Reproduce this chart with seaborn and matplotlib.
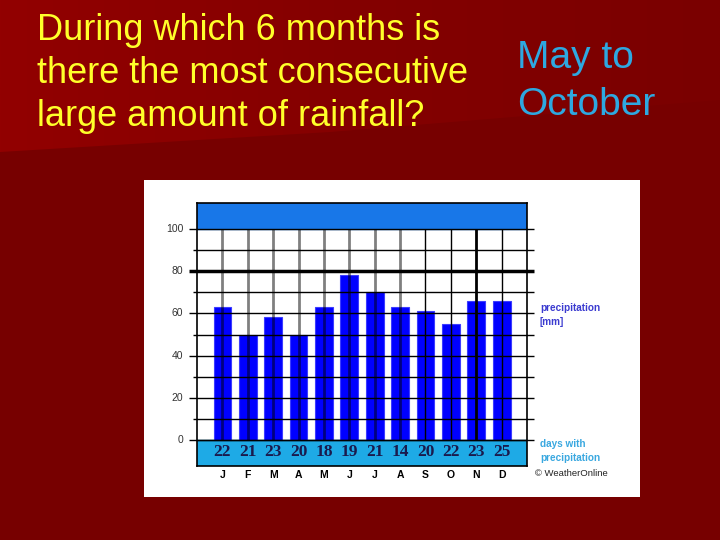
import matplotlib
matplotlib.use("Agg")
import numpy as np
import matplotlib.pyplot as plt
import seaborn as sns
from matplotlib.patches import Rectangle, Polygon
from matplotlib.colors import LinearSegmentedColormap

# -----------------------------
# DATA
# -----------------------------
months = ["Jan", "Feb", "Mar", "Apr", "May", "Jun",
          "Jul", "Aug", "Sep", "Oct", "Nov", "Dec"]
month_letters = ["J", "F", "M", "A", "M", "J", "J", "A", "S", "O", "N", "D"]
precip_mm = [63, 50, 58.5, 50, 63, 78, 70, 63, 61, 55, 66, 66]
rain_days = [22, 21, 23, 20, 18, 19, 21, 14, 20, 22, 23, 25]
y_ticks = [0, 20, 40, 60, 80, 100]

question = ["During which 6 months is",
            "there the most consecutive",
            "large amount of rainfall?"]
answer = ["May to", "October"]

W, H = 720, 540


def px(x, y):
    # pixel position (top-left origin) -> figure fraction
    return x / W, 1 - y / H


sns.set_style("white")
plt.rcParams['font.family'] = ['Liberation Sans', 'DejaVu Sans']

fig = plt.figure(figsize=(7.2, 5.4), dpi=100, facecolor="#770000")

# slide background: lighter wedge at the top, fading to the right
bg = fig.add_axes([0, 0, 1, 1], zorder=0)
bg.set_xlim(0, W)
bg.set_ylim(H, 0)
bg.axis("off")
cmap = LinearSegmentedColormap.from_list("wedge", ["#920000", "#840000", "#7a0000"])
grad = np.linspace(0, 1, 256).reshape(1, -1)
img = bg.imshow(grad, cmap=cmap, extent=[0, W, 155, 0], aspect="auto")
wedge = Polygon([(0, 0), (W, 0), (W, 100), (330, 132), (0, 152)], closed=True,
                transform=bg.transData, facecolor="none", edgecolor="none")
bg.add_patch(wedge)
img.set_clip_path(wedge)

# white picture panel
bg.add_patch(Rectangle((144, 180), 640 - 144, 497 - 180, facecolor="white",
                       edgecolor="none"))

# slide text
for i, line in enumerate(question):
    bg.text(37, 40 + i * 43, line, color="#ffff2a", fontsize=26, va="baseline", ha="left")
for i, line in enumerate(answer):
    bg.text(517, 68 + i * 47, line, color="#2ea8e0", fontsize=28, va="baseline", ha="left")

# -----------------------------
# CHART
# -----------------------------
left, right, top, bottom = 197, 527, 203, 466
ax = fig.add_axes([left / W, 1 - bottom / H, (right - left) / W, (bottom - top) / H])
ax.set_facecolor("white")
ax.set_zorder(2)

unit = (440 - 229) / 100.0
ymin = -(bottom - 440) / unit
ymax = 100 + (229 - top) / unit

sns.barplot(x=months, y=precip_mm, order=months, color="#0000ff", saturation=1,
            width=0.7, edgecolor="#3c3cff", linewidth=0.8, ax=ax, zorder=2)

ax.set_xlim(-1, 12)
ax.set_ylim(ymin, ymax)

# bands above and below the plotting range
ax.axhspan(100, ymax, color="#1877e8", zorder=1)
ax.axhspan(ymin, 0, color="#1eaae6", zorder=1)
ax.axhline(0, color="black", lw=1, zorder=4)

# horizontal grid lines, extending past the frame
for v in range(0, 101, 10):
    x_start = -1.30 if v % 20 == 0 else -1.14
    lw = 2.5 if v == 80 else 1
    ax.hlines(v, x_start, 12.29, color="black", lw=lw, zorder=4, clip_on=False)

# vertical lines through the bar centres
for i in range(len(months)):
    if i < 8:
        ax.vlines(i, 0, 100, color="black", alpha=0.5, lw=2, zorder=3)
    else:
        ax.vlines(i, 0, 100, color="black", lw=2 if i == 10 else 1, zorder=3)

# y tick labels
for v in y_ticks:
    ax.text(-1.54, v, str(v), ha="right", va="center", fontsize=7.5,
            color="#333333", clip_on=False)

# rain day counts and month letters
for i, (d, m) in enumerate(zip(rain_days, month_letters)):
    ax.text(i, -5.8, str(d), ha="center", va="center", fontsize=12.5, fontweight="bold",
            color="#1a1a4d", family=["Liberation Serif", "DejaVu Serif"])
    ax.text(i, -16.8, m, ha="center", va="center", fontsize=7.5, fontweight="bold",
            color="black", clip_on=False)

ax.set_xticks([])
ax.set_yticks([])
ax.set_xlabel("")
ax.set_ylabel("")
for s in ax.spines.values():
    s.set_color("black")
    s.set_linewidth(1.2)
    s.set_visible(True)

# chart legend texts
small = dict(fontsize=7.2, fontweight="bold", ha="left", va="center", zorder=5)
fig.text(*px(540, 308), "precipitation", color="#3b3bd0", **small)
fig.text(*px(540, 322), "[mm]", color="#3b3bd0", **small)
fig.text(*px(540, 444), "days with", color="#3aa8e0", **small)
fig.text(*px(540, 458), "precipitation", color="#3aa8e0", **small)
fig.text(*px(535, 474), "\u00a9 WeatherOnline", color="#222222", fontsize=6.8,
         ha="left", va="center", zorder=5)

fig.savefig("out.png", dpi=100, facecolor=fig.get_facecolor())
